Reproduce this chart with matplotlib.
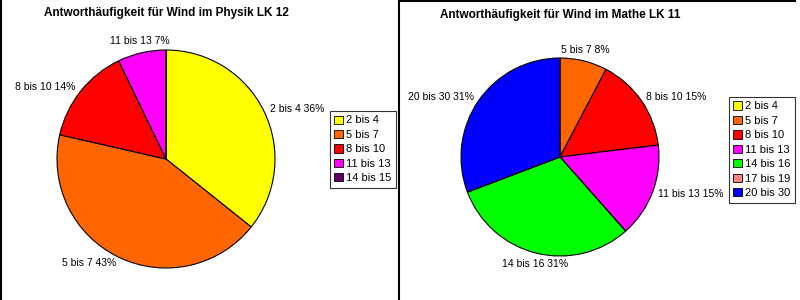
import numpy as np
import matplotlib.pyplot as plt
from matplotlib.patches import Patch
from matplotlib.lines import Line2D

plt.rcParams['font.family'] = ['Liberation Sans', 'DejaVu Sans']

# Physik LK 12
phys_cats = ['2 bis 4', '5 bis 7', '8 bis 10', '11 bis 13', '14 bis 15']
phys_vals = [5, 6, 2, 1, 0]
phys_cols = ['#FFFF00', '#FF6600', '#FF0000', '#FF00FF', '#660066']

# Mathe LK 11
math_cats = ['2 bis 4', '5 bis 7', '8 bis 10', '11 bis 13', '14 bis 16', '17 bis 19', '20 bis 30']
math_vals = [0, 1, 2, 2, 4, 0, 4]
math_cols = ['#FFFF00', '#FF6600', '#FF0000', '#FF00FF', '#00FF00', '#FF8080', '#0000FF']

W, H = 800, 300


def px_axes(fig, cx, cy, r):
  return fig.add_axes([(cx - r) / W, (H - cy - r) / H, 2 * r / W, 2 * r / H])


def draw_pie(ax, cats, vals, cols):
  total = sum(vals)
  labels = []
  for c, v in zip(cats, vals):
    if v > 0:
      labels.append('{} {}%'.format(c, int(round(100.0 * v / total))))
    else:
      labels.append('')
  wedges, texts = ax.pie(vals, colors=cols, labels=labels, startangle=90,
                         counterclock=False, labeldistance=1.06,
                         wedgeprops=dict(edgecolor='black', linewidth=0.8),
                         textprops=dict(fontsize=7.5))
  # Excel style: labels near top/bottom are centered and kept off the pie
  for w, t in zip(wedges, texts):
    ang = np.deg2rad((w.theta1 + w.theta2) / 2.0)
    if abs(np.cos(ang)) < 0.3:
      t.set_ha('center')
      t.set_va('bottom' if np.sin(ang) > 0 else 'top')
  ax.set_xlim(-1.0, 1.0)
  ax.set_ylim(-1.0, 1.0)
  ax.set_aspect('equal')
  ax.axis('off')


def add_legend(fig, cats, cols, x, y):
  handles = [Patch(facecolor=c, edgecolor='black', linewidth=0.6) for c in cols]
  leg = fig.legend(handles, cats, loc='upper left',
                   bbox_to_anchor=(x / W, 1 - y / H), fontsize=8,
                   frameon=True, fancybox=False, handlelength=0.75,
                   handleheight=0.75, handletextpad=0.3, labelspacing=0.4,
                   borderpad=0.4, borderaxespad=0)
  leg.get_frame().set_edgecolor('black')
  leg.get_frame().set_linewidth(0.8)


fig = plt.figure(figsize=(8, 3), dpi=100)

ax1 = px_axes(fig, 166, 159, 109)
draw_pie(ax1, phys_cats, phys_vals, phys_cols)
fig.text(166 / W, 1 - 13 / H, 'Antworthäufigkeit für Wind im Physik LK 12',
         ha='center', va='center', fontsize=8.5, fontweight='bold')
add_legend(fig, phys_cats, phys_cols, 330, 111)

ax2 = px_axes(fig, 560, 157, 99)
draw_pie(ax2, math_cats, math_vals, math_cols)
fig.text(560 / W, 1 - 15 / H, 'Antworthäufigkeit für Wind im Mathe LK 11',
         ha='center', va='center', fontsize=8.5, fontweight='bold')
add_legend(fig, math_cats, math_cols, 729, 97)

# chart borders
fig.add_artist(Line2D([0.5 / W, 0.5 / W], [0, 1], color='black', linewidth=1.5))
fig.add_artist(Line2D([398.5 / W, 398.5 / W], [0, 1], color='black', linewidth=1.5))
fig.add_artist(Line2D([399 / W, 795 / W], [1 - 0.5 / H, 1 - 0.5 / H], color='black', linewidth=1.5))

fig.savefig('out.png', dpi=100)
